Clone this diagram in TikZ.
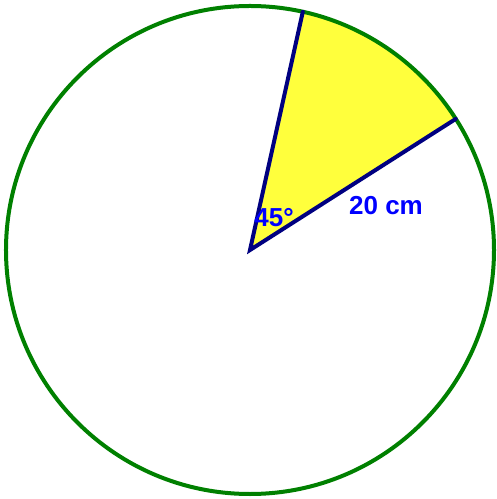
\documentclass[tikz,border=0pt]{standalone}
\usepackage{fontspec}
\setmainfont{Liberation Sans}
\definecolor{rimGreen}{RGB}{0,128,0}
\definecolor{radNavy}{RGB}{0,0,128}
\definecolor{secYellow}{RGB}{255,255,60}
\begin{document}
\begin{tikzpicture}[x=0.75pt,y=0.75pt,
    secRim/.style={draw=rimGreen,line width=3pt},
    secRad/.style={draw=radNavy,line width=3pt,line cap=round},
    secLbl/.style={text=blue,font=\fontsize{19.5}{21}\selectfont\bfseries,inner sep=0pt},
]
\useasboundingbox (-250,-249) rectangle (246,250);
\coordinate (O) at (0,0);
\coordinate (A) at (32.5:244);
\coordinate (B) at (77.5:244);
% shaded sector
\fill[secYellow] (O) -- (A) arc (32.5:77.5:244) -- cycle;
% rim
\draw[secRim] (O) circle (244);
% radii
\draw[secRad] (A) -- (O) -- (B);
% labels
\node[secLbl] (ang) at (24,32) {45°};
\node[secLbl] (len) at (136,44) {20 cm};
\end{tikzpicture}
\end{document}
